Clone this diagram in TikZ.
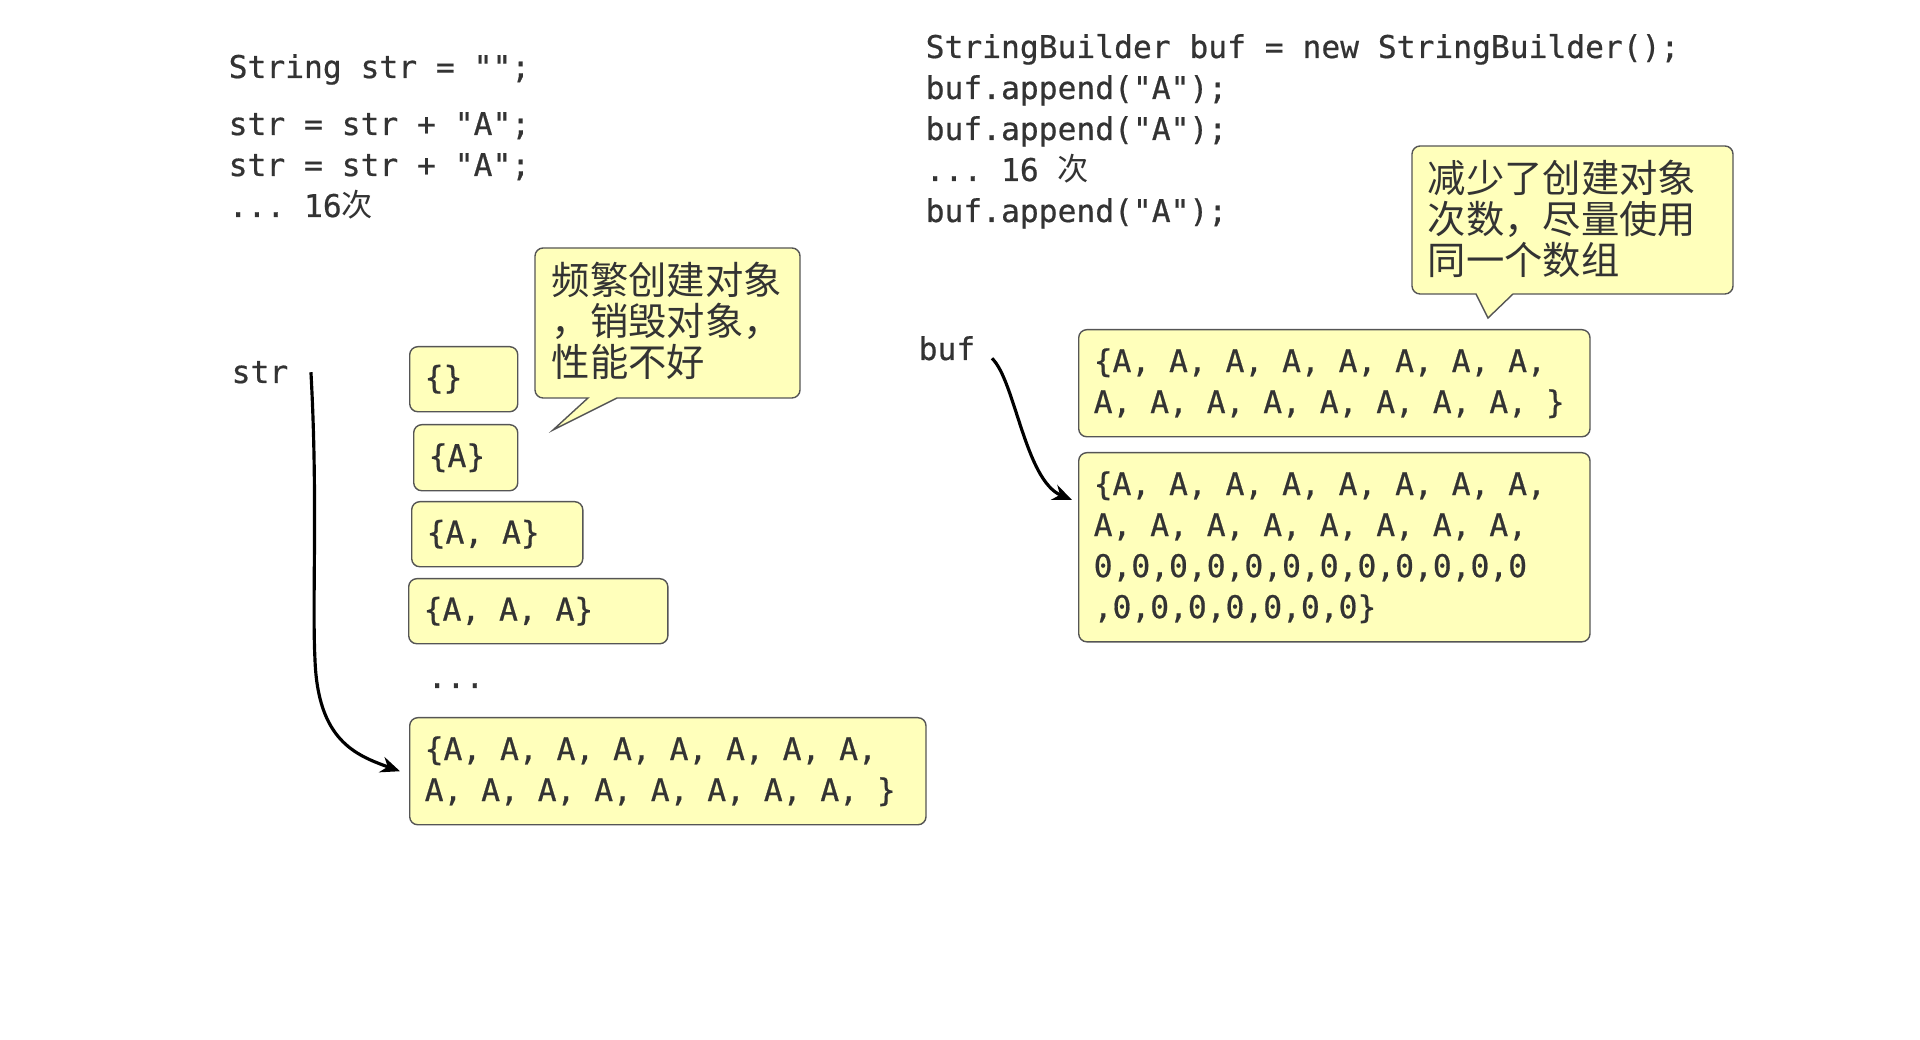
\documentclass[tikz,border=0pt]{standalone}
\usepackage{fontspec}
\setmonofont[FakeBold=0.6]{DejaVu Sans Mono}
\newfontfamily\cjk{Noto Sans CJK SC}
\usetikzlibrary{arrows.meta}
\definecolor{notefill}{HTML}{FFFFBB}
\definecolor{noteline}{HTML}{555555}
\definecolor{inkgray}{HTML}{333333}
\newcommand\codefont{\ttfamily\fontsize{8.9pt}{11.66pt}\selectfont}
\newcommand\notefont{\cjk\fontsize{10.9pt}{11.66pt}\selectfont}

\begin{document}
\begin{tikzpicture}[x=0.01cm, y=-0.01cm,
	code/.style={inner sep=0, anchor=base west, align=left, text=inkgray, font=\codefont},
	cell/.style={draw=noteline, fill=notefill, rounded corners=2.3pt, anchor=north west, inner xsep=0.15cm, inner ysep=0, align=left, text=inkgray, font=\codefont, execute at begin node={\spaceskip=0.602em\relax}},
	note/.style={draw=noteline, fill=notefill, line width=0.4pt},
	link/.style={-{Stealth[length=5.5pt,width=4.6pt]}, line width=0.9pt, black}] % 1 unit = 1px, base = last line
					\useasboundingbox (0,0) rectangle (1920,1040);
					\node[code] (strdecl) at (228,78) {String str = "";};
					\node[code] (strloop) at (228,217) {str = str + "A";\\str = str + "A";\\... 16{\cjk 次}};
					\node[code] (strlabel) at (231,383) {str};
					\node[code] (bufcode) at (925,222) {StringBuilder buf = new StringBuilder();\\buf.append("A");\\buf.append("A");\\... 16 {\cjk 次}\\buf.append("A");};
					\node[code] (buflabel) at (918,360) {buf};
					\node[cell, text width=0.78cm, minimum height=0.65cm] (emptyarr) at (409,346) {\{\}};
					\node[cell, text width=0.74cm, minimum height=0.66cm] (onearr) at (413,424) {\{A\}};
					\node[cell, text width=1.41cm, minimum height=0.65cm] (twoarr) at (411,501) {\{A, A\}};
					\node[cell, text width=2.29cm, minimum height=0.65cm] (threearr) at (408,578) {\{A, A, A\}};
					\node[code] (gaparr) at (427,688) {...};
					\node[cell, text width=4.86cm, minimum height=1.07cm] (fullarr) at (409,717) {\{A, A, A, A, A, A, A, A,\\A, A, A, A, A, A, A, A, \}};
					\node[cell, text width=4.81cm, minimum height=1.07cm] (bufold) at (1078,329) {\{A, A, A, A, A, A, A, A,\\A, A, A, A, A, A, A, A, \}};
					\node[cell, text width=4.81cm, minimum height=1.89cm] (bufnew) at (1078,452) {\{A, A, A, A, A, A, A, A,\\A, A, A, A, A, A, A, A,\\0,0,0,0,0,0,0,0,0,0,0,0\\,0,0,0,0,0,0,0\}};
					\draw[note] (535,323) [rounded corners=2.3pt] -- (535,248) -- (800,248) -- (800,398) [sharp corners] -- (617,398) -- (553,430) -- (588,398) [rounded corners=2.3pt] -- (535,398) -- cycle;
					\node[code, font=\notefont] (strnote) at (551,377) {频繁创建对象\\，销毁对象，\\性能不好};
					\draw[note] (1412,220) [rounded corners=2.3pt] -- (1412,146) -- (1733,146) -- (1733,294) [sharp corners] -- (1513,294) -- (1488,318) -- (1476,294) [rounded corners=2.3pt] -- (1412,294) -- cycle;
					\node[code, font=\notefont] (bufnote) at (1427,275) {减少了创建对象\\次数，尽量使用\\同一个数组};
					\draw[link] ([xshift=0.22cm]strlabel.east) .. controls (318,500) and (312,600) .. (315,660) .. controls (318,740) and (355,755) .. ([xshift=-0.09cm]fullarr.west);
					\draw[link] ([shift={(16,10)}]buflabel.east) .. controls (1015,380) and (1025,480) .. ([shift={(-6,48)}]bufnew.north west);
				\end{tikzpicture}
\end{document}
